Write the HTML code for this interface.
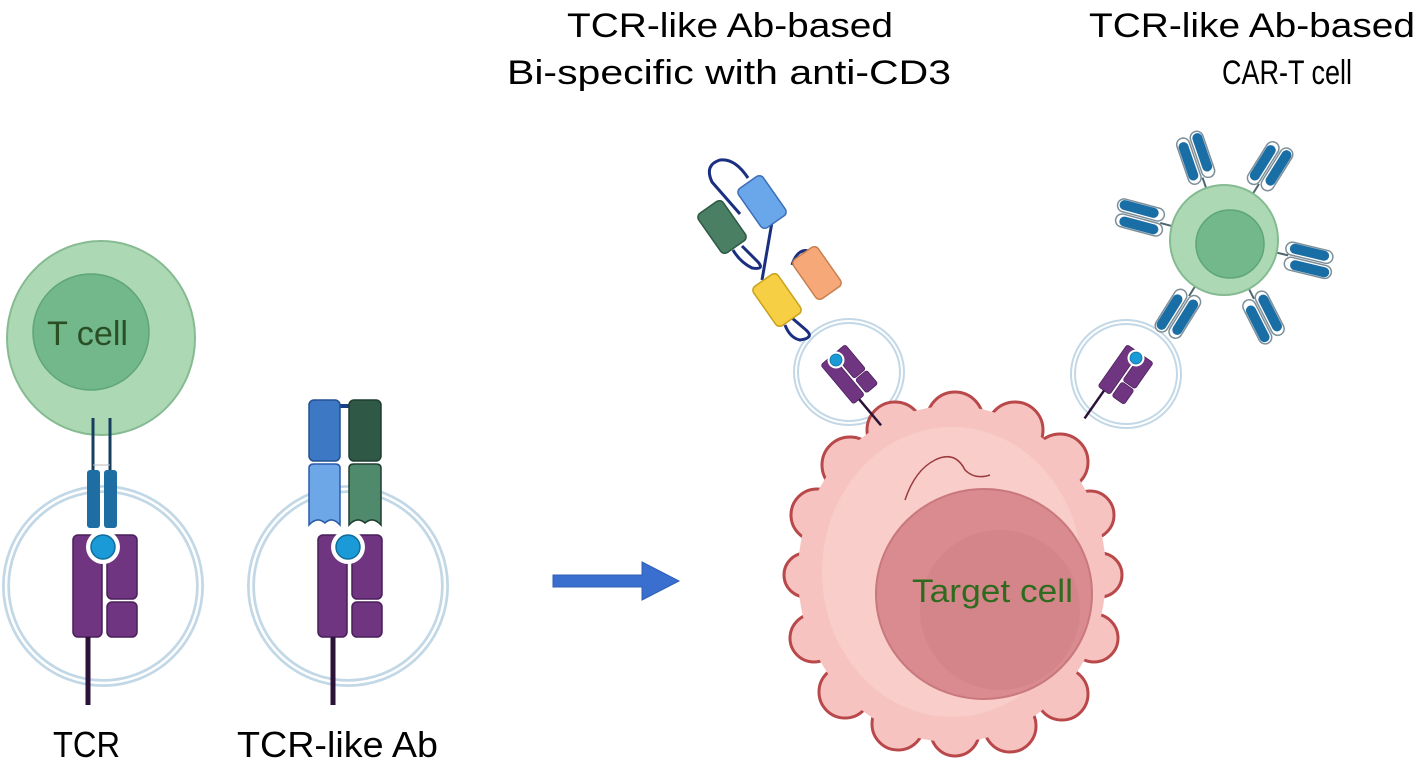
<!DOCTYPE html>
<html><head><meta charset="utf-8"><style>
html,body{margin:0;padding:0;background:#fff;}
svg{display:block;}
text{font-family:"Liberation Sans",sans-serif;}
</style></head><body>
<svg width="1417" height="784" viewBox="0 0 1417 784" xmlns="http://www.w3.org/2000/svg">
<defs>
  <g id="mhc">
    <rect x="-30" y="-12" width="29" height="102" rx="5" fill="#6f3580" stroke="#4a1f5a" stroke-width="1.5"/>
    <rect x="4" y="-12" width="30" height="64" rx="5" fill="#6f3580" stroke="#4a1f5a" stroke-width="1.5"/>
    <rect x="4" y="55" width="30" height="35" rx="5" fill="#6f3580" stroke="#4a1f5a" stroke-width="1.5"/>
    <circle cx="0" cy="0" r="17" fill="#fff"/>
    <circle cx="0" cy="0" r="12" fill="#1a9bd7" stroke="#0f6e9e" stroke-width="1.5"/>
    <line x1="-15" y1="90" x2="-15" y2="158" stroke="#2a1238" stroke-width="5"/>
  </g>
  <g id="car">
    <line x1="52" y1="0" x2="66" y2="0" stroke="#4d6670" stroke-width="2"/>
    <rect x="62" y="-14" width="48" height="13" rx="6.5" fill="#fff" stroke="#7d8f99" stroke-width="1.5"/>
    <rect x="64" y="1" width="48" height="13" rx="6.5" fill="#fff" stroke="#7d8f99" stroke-width="1.5"/>
    <rect x="66" y="-13" width="40" height="10" rx="5" fill="#1a6ea6"/>
    <rect x="70" y="3" width="40" height="10" rx="5" fill="#1a6ea6"/>
  </g>
</defs>

<!-- Titles -->
<text x="567" y="37" font-size="34" textLength="326" lengthAdjust="spacingAndGlyphs" fill="#000">TCR-like Ab-based</text>
<text x="507" y="84" font-size="34" textLength="444" lengthAdjust="spacingAndGlyphs" fill="#000">Bi-specific with anti-CD3</text>
<text x="1089" y="37" font-size="34" textLength="326" lengthAdjust="spacingAndGlyphs" fill="#000">TCR-like Ab-based</text>
<text x="1222" y="84" font-size="34" textLength="130" lengthAdjust="spacingAndGlyphs" fill="#000">CAR-T cell</text>

<!-- T cell -->
<ellipse cx="101" cy="338" rx="94" ry="97" fill="#acd9b4" stroke="#86bb92" stroke-width="2"/>
<circle cx="91" cy="332" r="58" fill="#72b88a" stroke="#5fa577" stroke-width="1.5"/>
<text x="47" y="345" font-size="34" textLength="81" lengthAdjust="spacingAndGlyphs" fill="#2a4f25">T cell</text>

<!-- left ring -->
<circle cx="103" cy="586" r="97" fill="none" stroke="#c2d8e6" stroke-width="8"/>
<circle cx="103" cy="586" r="97" fill="none" stroke="#fff" stroke-width="2.5"/>
<!-- TCR -->
<line x1="93" y1="418" x2="93" y2="472" stroke="#163e5e" stroke-width="3"/>
<line x1="110" y1="418" x2="110" y2="472" stroke="#163e5e" stroke-width="3"/>
<line x1="93" y1="465" x2="110" y2="465" stroke="#bbb" stroke-width="1"/>
<rect x="87" y="470" width="13" height="58" rx="3" fill="#1f6ea3"/>
<rect x="104" y="470" width="13" height="58" rx="3" fill="#1f6ea3"/>
<use href="#mhc" transform="translate(103,547)"/>

<!-- right ring -->
<circle cx="348" cy="586" r="97" fill="none" stroke="#c2d8e6" stroke-width="8"/>
<circle cx="348" cy="586" r="97" fill="none" stroke="#fff" stroke-width="2.5"/>
<!-- Ab -->
<line x1="340" y1="406" x2="350" y2="406" stroke="#1c3f8a" stroke-width="4"/>
<rect x="309" y="400" width="31" height="61" rx="5" fill="#3c78c4" stroke="#24508f" stroke-width="1.5"/>
<rect x="349" y="400" width="32" height="61" rx="5" fill="#2f5847" stroke="#1f3d30" stroke-width="1.5"/>
<path d="M309 468 q0 -4 5 -4 h21 q5 0 5 4 v57 q-8 -9 -15 -2 q-8 -7 -16 2 z" fill="#6ea7e8" stroke="#2a5aa8" stroke-width="1.5"/>
<path d="M349 468 q0 -4 5 -4 h22 q5 0 5 4 v57 q-8 -9 -16 -2 q-8 -7 -16 2 z" fill="#4f8a6c" stroke="#1f3d30" stroke-width="1.5"/>
<use href="#mhc" transform="translate(348,547)"/>

<!-- labels -->
<text x="53" y="757" font-size="36" textLength="67" lengthAdjust="spacingAndGlyphs" fill="#000">TCR</text>
<text x="237" y="757" font-size="36" textLength="201" lengthAdjust="spacingAndGlyphs" fill="#000">TCR-like Ab</text>

<!-- arrow -->
<path d="M553 575 H642 V562 L679 581 L642 600 V587 H553 Z" fill="#3a6fcf" stroke="#2f5fb5" stroke-width="1"/>

<!-- small rings -->
<ellipse cx="849" cy="372" rx="53" ry="51" fill="none" stroke="#c2d8e6" stroke-width="6"/>
<ellipse cx="849" cy="372" rx="53" ry="51" fill="none" stroke="#fff" stroke-width="2"/>
<ellipse cx="1126" cy="374" rx="53" ry="52" fill="none" stroke="#c2d8e6" stroke-width="6"/>
<ellipse cx="1126" cy="374" rx="53" ry="52" fill="none" stroke="#fff" stroke-width="2"/>

<!-- Target cell -->
<g fill="#f6c3c0" stroke="#b9484a" stroke-width="3">
  <circle cx="955" cy="420" r="28"/>
  <circle cx="895" cy="430" r="28"/>
  <circle cx="1015" cy="430" r="28"/>
  <circle cx="850" cy="465" r="28"/>
  <circle cx="1060" cy="462" r="28"/>
  <circle cx="817" cy="515" r="26"/>
  <circle cx="1090" cy="515" r="24"/>
  <circle cx="806" cy="575" r="22"/>
  <circle cx="1100" cy="575" r="22"/>
  <circle cx="814" cy="638" r="24"/>
  <circle cx="1094" cy="638" r="24"/>
  <circle cx="845" cy="692" r="26"/>
  <circle cx="1062" cy="694" r="26"/>
  <circle cx="898" cy="724" r="26"/>
  <circle cx="1010" cy="726" r="26"/>
  <circle cx="955" cy="732" r="24"/>
</g>
<ellipse cx="952" cy="574" rx="154" ry="168" fill="#f6c3c0"/>
<ellipse cx="952" cy="572" rx="130" ry="145" fill="#f8cdca"/>
<path d="M905 500 q10 -30 30 -40 M935 460 q20 -10 30 10 q10 10 25 5" fill="none" stroke="#9c3a3e" stroke-width="1.5"/>
<ellipse cx="984" cy="594" rx="108" ry="105" fill="#d98b8f" stroke="#c9787c" stroke-width="2"/>
<ellipse cx="1000" cy="610" rx="80" ry="80" fill="#d4858a"/>
<text x="912" y="602" font-size="32" textLength="161" lengthAdjust="spacingAndGlyphs" fill="#2e6b1f">Target cell</text>

<!-- MHC on target -->
<use href="#mhc" transform="translate(836,360) rotate(-40) scale(0.5)"/>
<use href="#mhc" transform="translate(1136,358) rotate(35) scale(0.5)"/>

<!-- Bispecific -->
<g fill="none" stroke="#1a2f80" stroke-width="3">
  <path d="M740 214 L712 182 Q704 165 720 160 Q735 158 748 178"/>
  <path d="M742 246 L758 262 Q765 270 752 268 Q740 262 733 250"/>
  <path d="M772 222 L762 280"/>
  <path d="M792 265 Q798 246 812 252 L832 282"/>
  <path d="M792 318 L806 330 Q815 338 800 340 Q790 338 785 325"/>
</g>
<g transform="translate(762,202) rotate(-35)"><rect x="-15" y="-24" width="30" height="48" rx="5" fill="#6aa6ea" stroke="#3c6fb8" stroke-width="1.5"/></g>
<g transform="translate(722,227) rotate(-35)"><rect x="-15" y="-24" width="30" height="48" rx="5" fill="#4a7f63" stroke="#2d5a45" stroke-width="1.5"/></g>
<g transform="translate(777,300) rotate(-35)"><rect x="-15" y="-24" width="30" height="48" rx="5" fill="#f7cf45" stroke="#c9a11b" stroke-width="1.5"/></g>
<g transform="translate(817,273) rotate(-35)"><rect x="-15" y="-24" width="30" height="48" rx="5" fill="#f7a878" stroke="#c98050" stroke-width="1.5"/></g>

<!-- CAR-T -->
<use href="#car" transform="translate(1224,240) rotate(-109)"/>
<use href="#car" transform="translate(1224,240) rotate(-58)"/>
<use href="#car" transform="translate(1224,240) rotate(-165)"/>
<use href="#car" transform="translate(1224,240) rotate(13.5)"/>
<use href="#car" transform="translate(1224,240) rotate(122)"/>
<use href="#car" transform="translate(1224,240) rotate(63)"/>
<ellipse cx="1224" cy="240" rx="54" ry="55" fill="#acd9b4" stroke="#86bb92" stroke-width="2"/>
<circle cx="1230" cy="244" r="34" fill="#72b88a" stroke="#5fa577" stroke-width="1.5"/>
</svg>
</body></html>
